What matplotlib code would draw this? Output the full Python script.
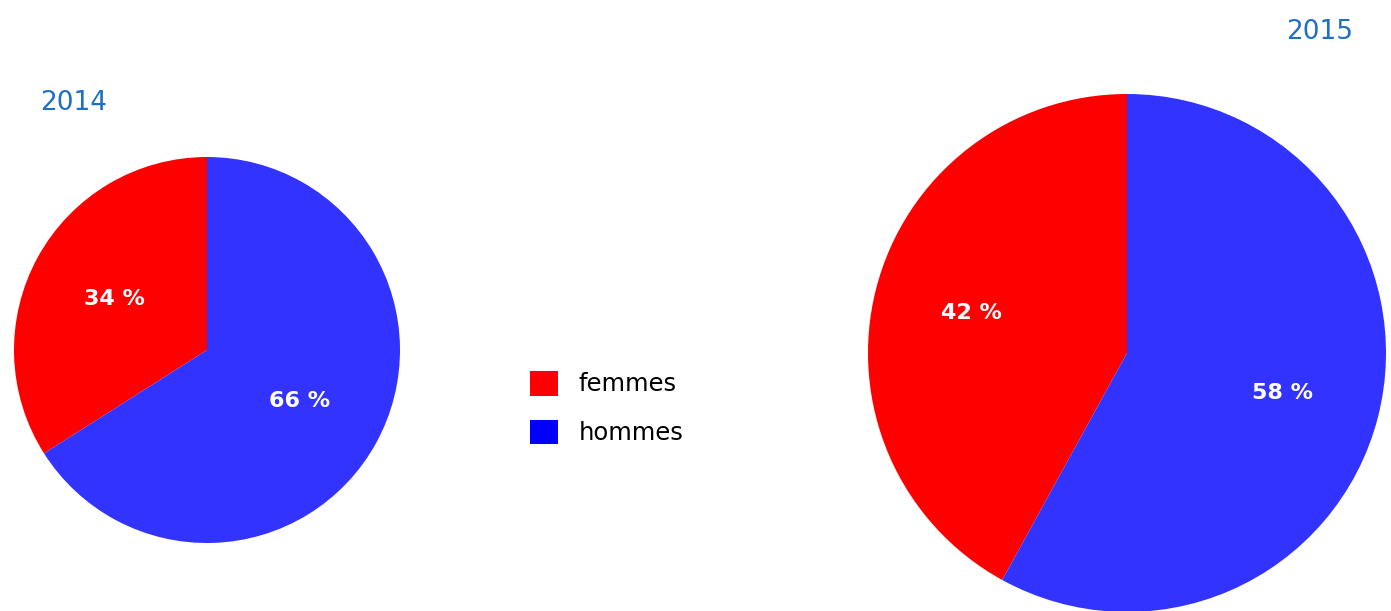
import matplotlib.pyplot as plt
from matplotlib.patches import Patch

W, H = 1391, 611

labels = ["femmes", "hommes"]
values_2014 = [34, 66]
values_2015 = [42, 58]
years = ["2014", "2015"]

pie_colors = ["#ff0000", "#3333ff"]
legend_colors = ["#ff0000", "#0000ff"]
title_color = "#1f6fc5"

plt.rcParams['font.family'] = ['DejaVu Sans']

fig = plt.figure(figsize=(W / 100, H / 100), dpi=100)
ax = fig.add_axes([0, 0, 1, 1])

# left pie (2014)
ax.pie(values_2014, colors=pie_colors, startangle=90, counterclock=True,
       center=(207, H - 350), radius=193, frame=True,
       autopct=lambda p: f"{p:.0f} %", pctdistance=0.55,
       textprops=dict(color="white", fontsize=16, fontweight="bold"),
       wedgeprops=dict(linewidth=0))

# right pie (2015)
ax.pie(values_2015, colors=pie_colors, startangle=90, counterclock=True,
       center=(1127, H - 353), radius=259, frame=True,
       autopct=lambda p: f"{p:.0f} %", pctdistance=0.62,
       textprops=dict(color="white", fontsize=16, fontweight="bold"),
       wedgeprops=dict(linewidth=0))

ax.text(40, H - 103, years[0], color=title_color, fontsize=19, va="center", ha="left")
ax.text(1353, H - 32, years[1], color=title_color, fontsize=19, va="center", ha="right")

handles = [Patch(facecolor=c, edgecolor="none") for c in legend_colors]
ax.legend(handles, labels, loc="center left", bbox_to_anchor=(530 / W, 1 - 408 / H),
          frameon=False, fontsize=17.5, handlelength=1.15, handleheight=1.2,
          handletextpad=0.85, labelspacing=0.95, borderaxespad=0, borderpad=0)

ax.set_xlim(0, W)
ax.set_ylim(0, H)
ax.set_aspect("equal")
ax.axis("off")

fig.savefig("out.png", dpi=100)
